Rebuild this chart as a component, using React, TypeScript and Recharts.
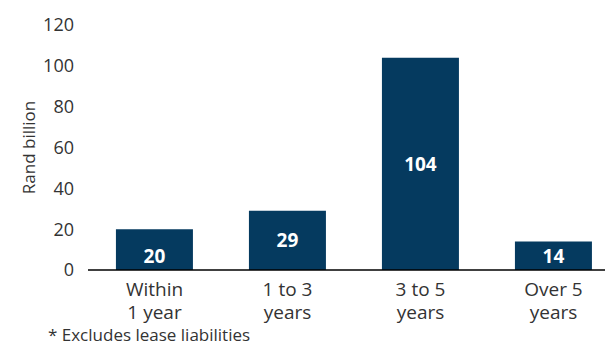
import React from 'react'
import { BarChart, Bar, XAxis, YAxis, LabelList } from 'recharts'

const categories = ['Within\n1 year', '1 to 3\nyears', '3 to 5\nyears', 'Over 5\nyears']
const values = [20, 29, 104, 14]
const yTicks = [0, 20, 40, 60, 80, 100, 120]

const data = categories.map((name, i) => ({ name, value: values[i] }))

const FONT = '"Open Sans", "DejaVu Sans", sans-serif'
const BAR = '#053a5f'

const XTick = (props: any) => {
  const { x, y, payload } = props
  const lines = String(payload.value).split('\n')
  return (
    <text x={x} y={y} textAnchor="middle" fill="#333" fontSize={19} fontFamily={FONT}>
      {lines.map((l, i) => (
        <tspan key={i} x={x} dy={i === 0 ? 18 : 23}>
          {l}
        </tspan>
      ))}
    </text>
  )
}

// value centred in the bar; short bars get it near the baseline
const ValueLabel = (props: any) => {
  const { x, y, width, height, value } = props
  const cy = height < 50 ? y + height - 14 : y + height / 2
  return (
    <text
      x={x + width / 2}
      y={cy}
      dy={7}
      textAnchor="middle"
      fill="#fff"
      fontSize={19}
      fontWeight="bold"
      fontFamily={FONT}
    >
      {value}
    </text>
  )
}

export default function App() {
  return (
    <div style={{ position: 'absolute', left: 0, top: 0, width: 605, height: 345, overflow: 'hidden', background: '#fff' }}>
      <BarChart
        width={620}
        height={345}
        data={data}
        margin={{ top: 25, right: 0, left: 0, bottom: 0 }}
        barCategoryGap="21%"
      >
        <XAxis
          dataKey="name"
          tick={<XTick />}
          tickLine={false}
          axisLine={{ stroke: '#000', strokeWidth: 1.5 }}
          interval={0}
          height={75}
        />
        <YAxis
          domain={[0, 120]}
          ticks={yTicks}
          width={88}
          tickLine={false}
          axisLine={false}
          tickMargin={8}
          tick={{ fill: '#333', fontSize: 18, fontFamily: FONT }}
          label={{
            value: 'Rand billion',
            angle: -90,
            position: 'insideLeft',
            dx: 24,
            style: { fill: '#333', fontSize: 17, fontFamily: FONT, textAnchor: 'middle' },
          }}
        />
        <Bar dataKey="value" fill={BAR} isAnimationActive={false}>
          <LabelList dataKey="value" content={<ValueLabel />} />
        </Bar>
      </BarChart>
      <div
        style={{
          position: 'absolute',
          left: 48,
          top: 325,
          fontSize: 17,
          fontFamily: FONT,
          color: '#333',
          whiteSpace: 'nowrap',
          lineHeight: '20px',
        }}
      >
        * Excludes lease liabilities
      </div>
    </div>
  )
}
